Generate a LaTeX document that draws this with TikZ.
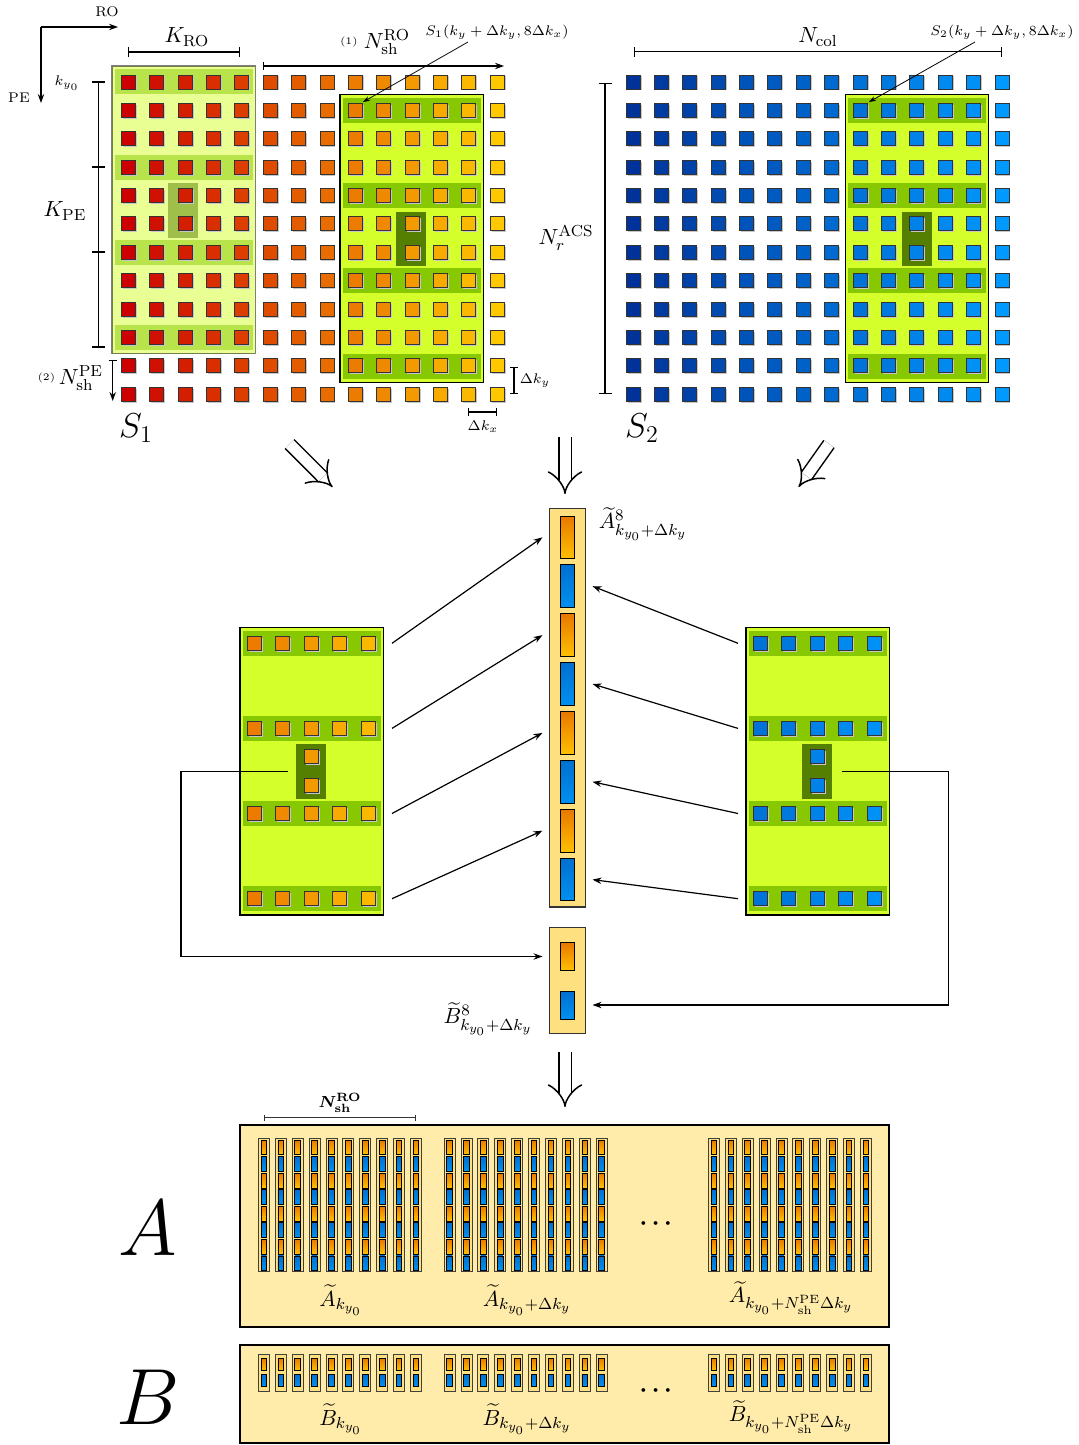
\documentclass[tikz,border=0pt]{standalone}
\usepackage{amsmath,bm}
\usetikzlibrary{arrows.meta}
\definecolor{sAstart}{RGB}{204,0,0}
\definecolor{sAend}{RGB}{255,200,0}
\definecolor{sBstart}{RGB}{0,51,153}
\definecolor{sBend}{RGB}{0,153,255}
\definecolor{winfill}{RGB}{212,255,42}
\definecolor{bandfill}{RGB}{136,200,0}
\definecolor{darkfill}{RGB}{85,127,0}
\definecolor{barfill}{RGB}{255,224,128}
\definecolor{blockfill}{RGB}{255,236,170}
\definecolor{orA}{RGB}{232,120,0}
\definecolor{orB}{RGB}{255,192,0}
\definecolor{blA}{RGB}{0,112,208}
\definecolor{blB}{RGB}{0,144,240}
\newcommand{\nsize}{\fontsize{10.95}{13.6}\selectfont}
\newcommand{\gsq}[3]{%
  \fill[black!22] ({#1-5.5},{#2-5.5}) rectangle ({#1+8.5},{#2+8.5});
  \filldraw[fill=#3,draw=black!80,line width=0.45pt] ({#1-7},{#2-7}) rectangle ({#1+7},{#2+7});}
\newcommand{\win}[3]{%
  \begin{scope}[shift={(#1,#2)},fill opacity=#3,draw opacity=#3]
    \filldraw[fill=winfill,draw=black,line width=0.6pt] (0,0) rectangle (143.4,287.6);
    \foreach \i in {0,3,6,9}{\fill[bandfill] (2.5,{16+\i*28.38-12.5}) rectangle (140.9,{16+\i*28.38+12.5});}
    \fill[darkfill] (56.3,117) rectangle (86.3,171.5);
  \end{scope}}
\newcommand{\acol}[1]{%
  \filldraw[fill=barfill,draw=black!75,line width=0.4pt] (#1,1138.3) rectangle ({#1+11},1271.7);
  \foreach \k in {0,...,7}{%
    \pgfmathsetmacro\yt{1140+\k*16.55}%
    \ifodd\k\relax
      \shadedraw[top color=blA,bottom color=blB,draw=black,line width=0.35pt] ({#1+2.7},\yt) rectangle ({#1+8.3},{\yt+14.8});
    \else
      \shadedraw[top color=orA,bottom color=orB,draw=black,line width=0.35pt] ({#1+2.7},\yt) rectangle ({#1+8.3},{\yt+14.8});
    \fi}}
\newcommand{\bcol}[1]{%
  \filldraw[fill=barfill,draw=black!75,line width=0.4pt] (#1,1354) rectangle ({#1+11},1391);
  \shadedraw[top color=orA,bottom color=orB,draw=black,line width=0.35pt] ({#1+2.7},1358) rectangle ({#1+8.3},1370.5);
  \shadedraw[top color=blA,bottom color=blB,draw=black,line width=0.35pt] ({#1+2.7},1374) rectangle ({#1+8.3},1386);}
\begin{document}
\begin{tikzpicture}[x=0.5pt,y=-0.5pt,font=\nsize,
  conn/.style={line width=0.6pt,-{Stealth[length=4.5pt,width=3.2pt]}},
  dimln/.style={line width=0.6pt,{Bar[width=5pt]}-{Bar[width=5pt]}},
  bigarr/.style={double,double distance=5.5pt,line width=0.75pt,-{Implies}},
  ptr/.style={line width=0.4pt,-{Stealth[length=3.5pt,width=2.5pt]}}]
\useasboundingbox (0,0) rectangle (1078,1445);

% ---------- top: windows ----------
\win{112}{66}{0.5}
\win{340}{94.7}{1}
\win{845.3}{94.7}{1}

% ---------- top: grids ----------
\foreach \j in {0,...,13}{
  \pgfmathtruncatemacro\p{round(100*\j/13)}
  \foreach \i in {0,...,11}{
    \gsq{128.3+\j*28.38}{82+\i*28.38}{sAend!\p!sAstart}
    \gsq{633+\j*28.38}{82+\i*28.38}{sBend!\p!sBstart}
  }
}

% axes
\coordinate (ax0) at (41,27);
\coordinate (axr) at (118,27);
\coordinate (axd) at (41,103);
\draw[conn] (ax0) -- (axr);
\draw[conn] (ax0) -- (axd);
\node[font=\scriptsize] (tRO) at (107,12) {RO};
\node[font=\scriptsize] (tPE) at (19,98) {PE};

% dimensions S1
\draw[dimln] (128,52) -- (240,52);
\node (tKRO) at (187,37) {$K_{\mathrm{RO}}$};
\draw[line width=0.6pt] (98.3,82) -- (98.3,347);
\foreach \yy in {82,167,252,347}{\draw[line width=0.6pt] (92,\yy) -- (105,\yy);}
\node (tKPE) at (65,211) {$K_{\mathrm{PE}}$};
\node[font=\scriptsize] (tky) at (67,83) {$k_{y_0}$};
\draw[line width=0.6pt,{Bar[width=4pt]}-{Stealth[length=4.5pt,width=3.2pt]}] (112.7,360) -- (112.7,401);
\node[anchor=east] (tNPE) at (110,378) {\raisebox{2pt}{\tiny(2)}\,$N^{\mathrm{PE}}_{\mathrm{sh}}$};
\draw[line width=0.6pt,{Bar[width=4pt]}-{Stealth[length=4.5pt,width=3.2pt]}] (262.7,66) -- (504,66);
\node[anchor=west] (tNRO) at (333,42) {\raisebox{2pt}{\tiny(1)}\;$N^{\mathrm{RO}}_{\mathrm{sh}}$};
\node[font=\LARGE] (tS1) at (136,428) {$S_1$};
\node[font=\scriptsize] (tS1w) at (497,32) {$S_1(k_y+\Delta k_y,8\Delta k_x)$};
\coordinate (p1s) at (468,42);
\coordinate (p1e) at (363,102);
\draw[ptr] (p1s) -- (p1e);
\draw[line width=0.6pt,{Bar[width=4pt]}-{Bar[width=4pt]}] (514,367) -- (514,394);
\node[font=\scriptsize] (tdky) at (535,381) {$\Delta k_y$};
\draw[line width=0.6pt,{Bar[width=4pt]}-{Bar[width=4pt]}] (468,412) -- (497,412);
\node[font=\scriptsize] (tdkx) at (483,427) {$\Delta k_x$};

% dimensions S2
\draw[dimln] (634,51.7) -- (1001.7,51.7);
\node (tNcol) at (818,37) {$N_{\mathrm{col}}$};
\node[font=\scriptsize] (tS2w) at (1002,32) {$S_2(k_y+\Delta k_y,8\Delta k_x)$};
\coordinate (p2s) at (975,42);
\coordinate (p2e) at (869,102);
\draw[ptr] (p2s) -- (p2e);
\draw[line width=0.6pt,{Bar[width=6.5pt]}-{Bar[width=6.5pt]}] (605,82.7) -- (605,394);
\node (tNacs) at (566,238) {$N_r^{\mathrm{ACS}}$};
\node[font=\LARGE] (tS2) at (642,428) {$S_2$};

% big arrows
\coordinate (ba1s) at (289.6,444); \coordinate (ba1e) at (332.5,487);
\coordinate (ba2s) at (565,437);   \coordinate (ba2e) at (565,494);
\coordinate (ba3s) at (829,444);   \coordinate (ba3e) at (798.6,487);
\draw[bigarr] (ba1s) -- (ba1e);
\draw[bigarr] (ba2s) -- (ba2e);
\draw[bigarr] (ba3s) -- (ba3e);

% ---------- middle panels ----------
\win{240}{627.3}{1}
\win{746}{627.3}{1}
\foreach \j in {0,...,4}{
  \pgfmathtruncatemacro\p{round(100*(8+\j)/13)}
  \foreach \i in {0,3,6,9}{
    \gsq{254.5+\j*28.38}{643.3+\i*28.38}{sAend!\p!sAstart}
    \gsq{760.5+\j*28.38}{643.3+\i*28.38}{sBend!\p!sBstart}
  }
}
\gsq{311.3}{756.8}{sAend!77!sAstart}
\gsq{311.3}{785.2}{sAend!77!sAstart}
\gsq{817.3}{756.8}{sBend!77!sBstart}
\gsq{817.3}{785.2}{sBend!77!sBstart}

% A bar
\filldraw[fill=barfill,draw=black!80,line width=0.7pt] (549.6,508.6) rectangle (585.4,907);
\foreach \k in {0,...,7}{%
  \pgfmathsetmacro\yt{516+\k*48.9}%
  \ifodd\k\relax
    \shadedraw[top color=blA,bottom color=blB,draw=black,line width=0.5pt] (560.4,\yt) rectangle (574.6,{\yt+42.6});
  \else
    \shadedraw[top color=orA,bottom color=orB,draw=black,line width=0.5pt] (560.4,\yt) rectangle (574.6,{\yt+42.6});
  \fi}
\node (tA8) at (643,524) {$\widetilde{A}^{8}_{k_{y_0}+\Delta k_y}$};

% B bar
\filldraw[fill=barfill,draw=black!80,line width=0.7pt] (549.6,927.5) rectangle (585.4,1033.6);
\shadedraw[top color=orA,bottom color=orB,draw=black,line width=0.5pt] (560.4,942.5) rectangle (574.6,970.4);
\shadedraw[top color=blA,bottom color=blB,draw=black,line width=0.5pt] (560.4,991) rectangle (574.6,1019.3);
\node (tB8) at (488,1019) {$\widetilde{B}^{8}_{k_{y_0}+\Delta k_y}$};

% connectors
\coordinate (lb1) at (392,643.3); \coordinate (lb2) at (392,728.4);
\coordinate (lb3) at (392,813.5); \coordinate (lb4) at (392,898.7);
\coordinate (rb1) at (738,643.3); \coordinate (rb2) at (738,728.4);
\coordinate (rb3) at (738,813.5); \coordinate (rb4) at (738,898.7);
\coordinate (ao1) at (542.5,537.3); \coordinate (ao2) at (542.5,635.1);
\coordinate (ao3) at (542.5,732.9); \coordinate (ao4) at (542.5,830.7);
\coordinate (ab1) at (592.5,586.2); \coordinate (ab2) at (592.5,684);
\coordinate (ab3) at (592.5,781.8); \coordinate (ab4) at (592.5,879.6);
\foreach \n in {1,2,3,4}{
  \draw[conn] (lb\n) -- (ao\n);
  \draw[conn] (rb\n) -- (ab\n);
}
\coordinate (ldk) at (288,771.5);
\coordinate (lcorner) at (181,956.5);
\coordinate (bo) at (542.5,956.5);
\draw[conn] (ldk) -| (lcorner) -- (bo);
\coordinate (rdk) at (842,771.5);
\coordinate (rcorner) at (948.3,1005);
\coordinate (bb) at (592.5,1005);
\draw[conn] (rdk) -| (rcorner) -- (bb);

\coordinate (ba4s) at (565,1052); \coordinate (ba4e) at (565,1107);
\draw[bigarr] (ba4s) -- (ba4e);

% ---------- bottom blocks ----------
\filldraw[fill=blockfill,draw=black,line width=0.7pt] (240,1125) rectangle (889,1327);
\filldraw[fill=blockfill,draw=black,line width=0.7pt] (240,1345) rectangle (889,1443);
\foreach \g in {258.3,444,708.3}{
  \foreach \c in {0,...,9}{
    \pgfmathsetmacro\xx{\g+\c*16.9}
    \acol{\xx}
    \bcol{\xx}
  }
}
\draw[line width=0.4pt,black!80,{Bar[width=3pt]}-{Bar[width=3pt]}] (264,1117.7) -- (415.7,1117.7);
\node[font=\footnotesize] (tNROb) at (340,1103) {$\bm{N^{\mathrm{RO}}_{\mathrm{sh}}}$};
\node[font=\large] (dotsA) at (658,1224) {$\bm{\cdots}$};
\node[font=\large] (dotsB) at (658,1391) {$\bm{\cdots}$};
\node (tAa) at (341,1300) {$\widetilde{A}_{k_{y_0}}$};
\node (tAb) at (527,1300) {$\widetilde{A}_{k_{y_0}+\Delta k_y}$};
\node (tAc) at (791,1298) {$\widetilde{A}_{k_{y_0}+N_{\mathrm{sh}}^{\mathrm{PE}}\Delta k_y}$};
\node (tBa) at (341,1419) {$\widetilde{B}_{k_{y_0}}$};
\node (tBb) at (527,1419) {$\widetilde{B}_{k_{y_0}+\Delta k_y}$};
\node (tBc) at (791,1417) {$\widetilde{B}_{k_{y_0}+N_{\mathrm{sh}}^{\mathrm{PE}}\Delta k_y}$};
\node[font=\Huge,scale=1.6] (bigA) at (148,1228) {$A$};
\node[font=\Huge,scale=1.6] (bigB) at (148,1397) {$B$};
\end{tikzpicture}
\end{document}
